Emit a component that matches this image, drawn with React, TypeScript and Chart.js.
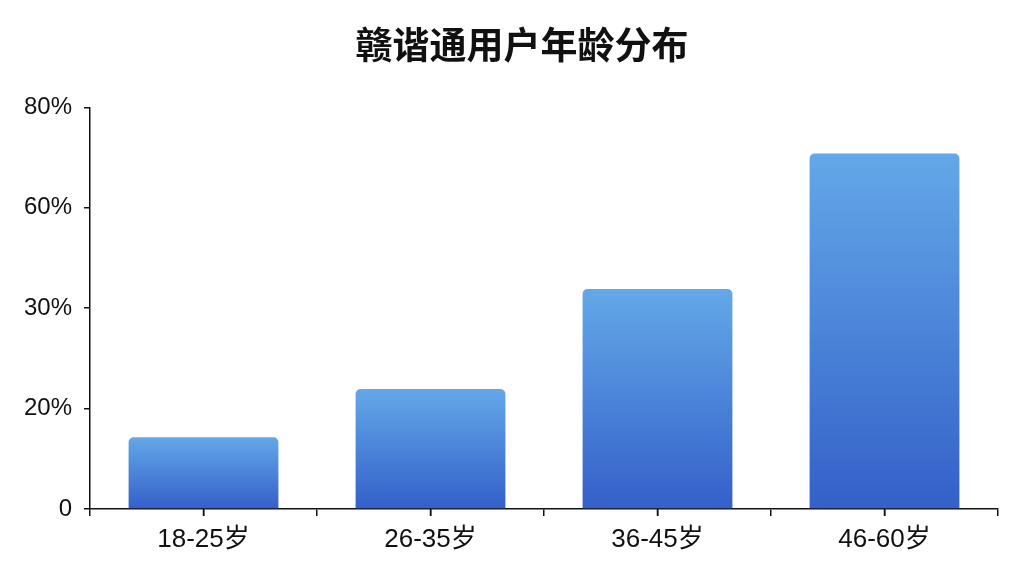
import React, { useEffect, useRef } from 'react'
import Chart from 'chart.js/auto'

const title = '赣谐通用户年龄分布'
const categories = ['18-25岁', '26-35岁', '36-45岁', '46-60岁']
const values = [14.3, 23.9, 43.8, 70.8]
// labels as printed on the axis, one per evenly spaced tick
const yTickLabels = ['0', '20%', '30%', '60%', '80%']

const barTop = '#63a8e8'
const barBottom = '#3460c9'
const font = '"Liberation Sans", "Noto Sans CJK SC", sans-serif'
const titleFont = '"Noto Sans CJK SC", "Noto Sans", sans-serif'

// short tick marks under each category centre
const centreTicks = {
  id: 'centreTicks',
  afterDraw: (c: any) => {
    const s = c.scales.x
    const ctx = c.ctx
    ctx.save()
    ctx.strokeStyle = '#111'
    ctx.lineWidth = 1.5
    ctx.beginPath()
    categories.forEach((_, i) => {
      const x = s.getPixelForValue(i)
      ctx.moveTo(x, s.top)
      ctx.lineTo(x, s.top + 7)
    })
    ctx.stroke()
    ctx.restore()
  },
}

const AgeChart = () => {
  const chartRef = useRef<HTMLCanvasElement | null>(null)

  useEffect(() => {
    if (!chartRef.current) return
    const chart = new Chart(chartRef.current, {
      type: 'bar',
      data: {
        datasets: [
          {
            // x is the category index so the axis can tick every half category
            data: values.map((v, i) => ({ x: i, y: v })),
            backgroundColor: (ctx: any) => {
              const c = ctx.chart
              if (!c.chartArea || ctx.type !== 'data') return barBottom
              const y = c.scales.y
              const top = y.getPixelForValue(ctx.raw.y)
              const base = y.getPixelForValue(0)
              const g = c.ctx.createLinearGradient(0, top, 0, base)
              g.addColorStop(0, barTop)
              g.addColorStop(1, barBottom)
              return g
            },
            borderRadius: { topLeft: 5, topRight: 5, bottomLeft: 0, bottomRight: 0 },
            borderSkipped: false,
            // sample size is the half-category tick gap, so 1.32 of it = 66% of a category
            categoryPercentage: 1,
            barPercentage: 1.32,
          },
        ],
      },
      plugins: [centreTicks],
      options: {
        responsive: true,
        maintainAspectRatio: false,
        animation: false,
        // left padding + empty right axis put the title's centre where the reference has it
        layout: { padding: { left: 20, right: 0, top: 0, bottom: 0 } },
        plugins: {
          legend: { display: false },
          tooltip: { enabled: false },
          title: {
            display: true,
            text: title,
            color: '#111',
            font: { family: titleFont, size: 37, weight: 'bold', lineHeight: 1.2 },
            padding: { top: 23, bottom: 40 },
          },
        },
        scales: {
          x: {
            type: 'linear',
            position: 'bottom',
            offset: false,
            min: -0.5,
            max: categories.length - 0.5,
            afterFit: (scale: any) => {
              scale.height = 67
            },
            grid: {
              offset: false,
              drawOnChartArea: false,
              drawTicks: true,
              tickLength: 7,
              color: '#111',
              lineWidth: 1.5,
            },
            border: { display: true, color: '#111', width: 1.5 },
            ticks: {
              stepSize: 0.5,
              autoSkip: false,
              maxRotation: 0,
              color: '#111',
              padding: 8,
              font: { family: font, size: 26 },
              callback: (v: any) => (Number.isInteger(v) ? categories[v] : ''),
            },
          },
          y: {
            type: 'linear',
            min: 0,
            max: 80,
            afterFit: (scale: any) => {
              scale.width = 70
            },
            ticks: {
              stepSize: 20,
              color: '#111',
              padding: 12,
              font: { family: font, size: 24 },
              callback: (_v: any, i: number) => yTickLabels[i],
            },
            grid: {
              drawOnChartArea: false,
              drawTicks: true,
              tickLength: 6,
              color: '#111',
              lineWidth: 1.5,
            },
            border: { display: true, color: '#111', width: 1.5 },
          },
          // empty spacer on the right of the plot
          yr: {
            type: 'linear',
            position: 'right',
            afterFit: (scale: any) => {
              scale.width = 26
            },
            ticks: { display: false },
            grid: { display: false },
            border: { display: false },
          },
        },
      },
    })

    return () => chart.destroy()
  }, [])

  return (
    <div
      style={{
        position: 'fixed',
        left: 0,
        top: 0,
        width: '1024px',
        height: '576px',
        background: '#fff',
      }}
    >
      <canvas ref={chartRef} />
    </div>
  )
}

export default function App() {
  return <AgeChart />
}
